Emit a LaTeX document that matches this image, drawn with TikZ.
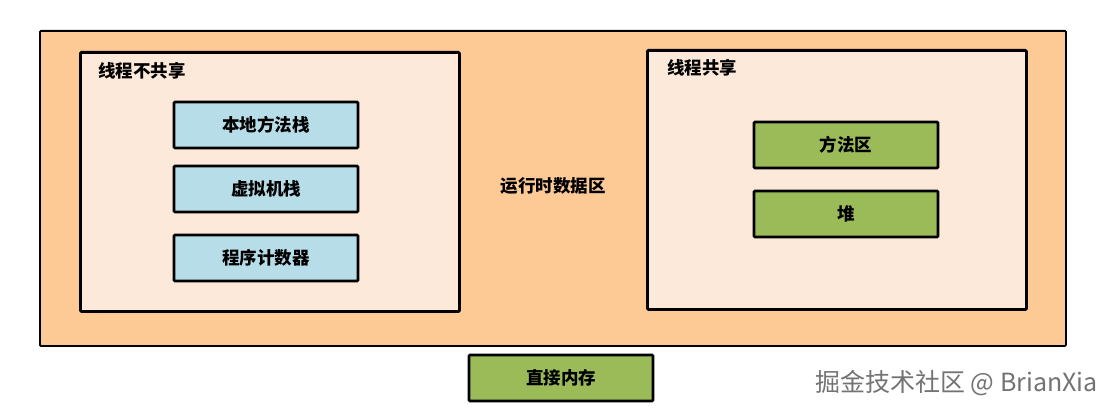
\documentclass[tikz,border=0pt]{standalone}
\usepackage{fontspec}
\usepackage{xcolor}
\newfontfamily\cjk{Noto Sans CJK SC}
\definecolor{areaorange}{HTML}{FDCA96}
\definecolor{threadbg}{HTML}{FDE9D9}
\definecolor{stackblue}{HTML}{B7DDE8}
\definecolor{sharedgreen}{HTML}{9BBB59}

\begin{document}
\begin{tikzpicture}[x=1pt, y=-1pt,
    region/.style={draw=black, line width=2.8pt, rounded corners=1pt, inner sep=0pt, anchor=north west},
    memblock/.style={draw=black, line width=2.8pt, rounded corners=1pt, inner sep=0pt,
      minimum width=184pt, minimum height=46pt, font=\cjk\bfseries\fontsize{17.5}{18}\selectfont},
    caption/.style={inner sep=0pt, anchor=west, font=\cjk\bfseries\fontsize{17.5}{18}\selectfont}]
    \useasboundingbox (0,0) rectangle (1115,412);
    \fill[white] (0,0) rectangle (1115,412);
    % runtime data area
    \node[region, draw, line width=1.8pt, fill=areaorange, minimum width=1026pt, minimum height=315pt] (rtda) at (39,30) {};
    \node[inner sep=0pt, font=\cjk\bfseries\fontsize{17.5}{18}\selectfont] (rtdalabel) at (553,186) {运行时数据区};
    % thread private part
    \node[region, fill=threadbg, minimum width=379pt, minimum height=259pt] (private) at (79,51) {};
    \node[caption] (privatelabel) at (98,71) {线程不共享};
    \node[memblock, fill=stackblue] (native) at (266,125) {本地方法栈};
    \node[memblock, fill=stackblue] (vmstack) at (266,189) {虚拟机栈};
    \node[memblock, fill=stackblue] (pc) at (266,258) {程序计数器};
    % thread shared part
    \node[region, fill=threadbg, minimum width=379pt, minimum height=259pt] (shared) at (646,49) {};
    \node[caption] (sharedlabel) at (667,68) {线程共享};
    \node[memblock, fill=sharedgreen] (method) at (846,145) {方法区};
    \node[memblock, fill=sharedgreen] (heap) at (846,214) {堆};
    % outside the area
    \node[memblock, fill=sharedgreen] (direct) at (561,378) {直接内存};
    \node[inner sep=0pt, anchor=east, text=black!55, font=\cjk\fontsize{25}{26}\selectfont] (mark) at (1098,383) {掘金技术社区 @ BrianXia};
\end{tikzpicture}
\end{document}
